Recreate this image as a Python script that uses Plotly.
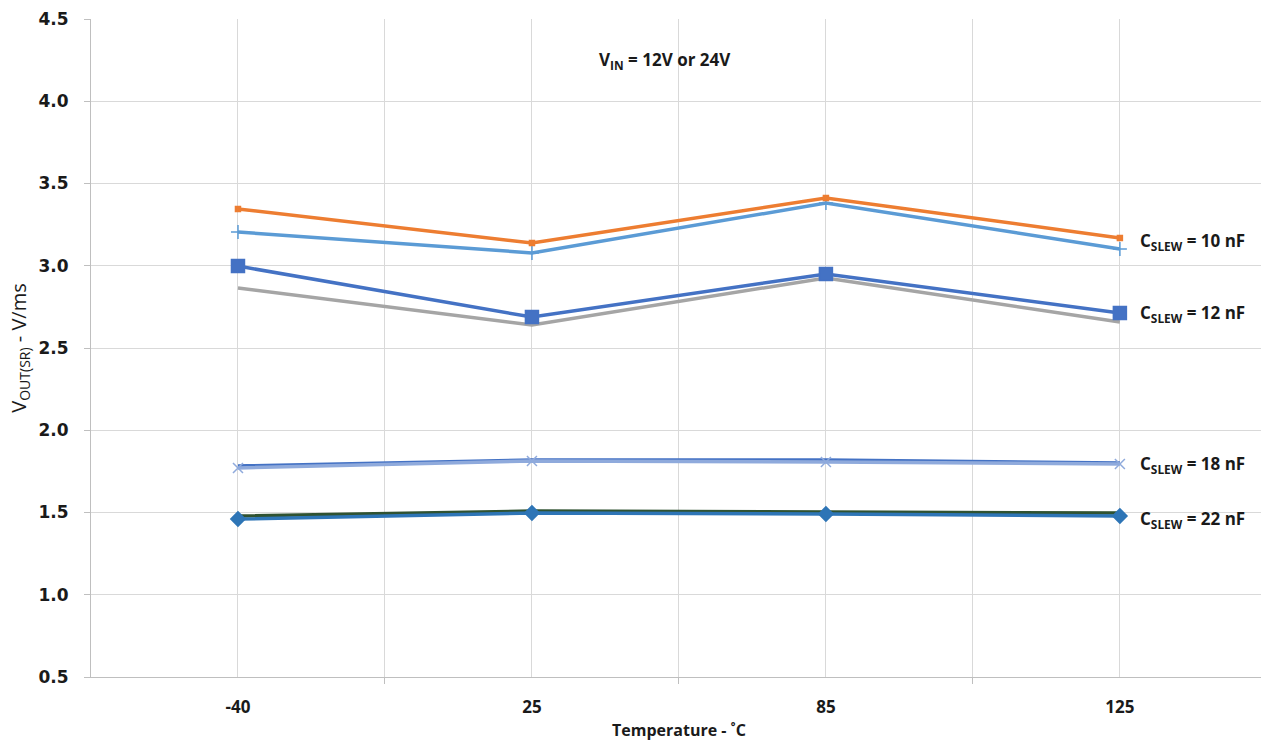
import plotly.graph_objects as go

temps = ["-40", "25", "85", "125"]
xpos = [0, 1, 2, 3]

c10_a = [3.345, 3.138, 3.412, 3.169]   # orange
c10_b = [3.205, 3.078, 3.381, 3.102]   # light blue +
c12_a = [2.998, 2.688, 2.950, 2.713]   # blue squares
c12_b = [2.865, 2.640, 2.926, 2.658]   # gray
c18_a = [1.783, 1.819, 1.819, 1.801]   # blue
c18_b = [1.771, 1.813, 1.807, 1.795]   # light purple-blue x
c22_a = [1.479, 1.509, 1.503, 1.497]   # dark green
c22_b = [1.460, 1.497, 1.491, 1.479]   # blue diamonds

labels = ["C<sub>SLEW</sub> = 10 nF", "C<sub>SLEW</sub> = 12 nF",
          "C<sub>SLEW</sub> = 18 nF", "C<sub>SLEW</sub> = 22 nF"]
label_y = [3.15, 2.707, 1.789, 1.455]

fig = go.Figure()

def add(y, color, symbol=None, size=6, width=3.5):
    mode = "lines+markers" if symbol else "lines"
    fig.add_trace(go.Scatter(
        x=xpos, y=y, mode=mode,
        line=dict(color=color, width=width),
        marker=dict(symbol=symbol or "circle", size=size, color=color,
                    line=dict(color=color, width=1.5)),
        showlegend=False, hoverinfo="skip"))

add(c12_b, "#A5A5A5")
add(c12_a, "#4472C4", "square", 13)
add(c10_b, "#5B9BD5", "cross-thin", 10)
add(c10_a, "#ED7D31", "square", 5)
add(c18_a, "#4472C4")
add(c18_b, "#8FAADC", "x-thin", 10)
add(c22_a, "#2F5231")
add(c22_b, "#2E75B6", "diamond", 11)

for t, yv in zip(labels, label_y):
    fig.add_annotation(x=3.06, y=yv, xref="x", yref="y", text=t,
                       showarrow=False, xanchor="left", yanchor="middle",
                       font=dict(family="Open Sans", size=17, color="#1a1a1a", weight="bold"))

fig.add_annotation(x=1.452, y=4.25, xref="x", yref="y",
                   text="V<sub>IN</sub> = 12V or 24V", showarrow=False,
                   font=dict(family="Open Sans", size=17, color="#1a1a1a", weight="bold"))

# x-axis title
fig.add_annotation(x=1.5, y=-0.0805, xref="x", yref="paper",
                   text="Temperature - ˚C", showarrow=False, yanchor="middle",
                   font=dict(family="Open Sans", size=16, color="#1a1a1a", weight="bold"))

grid_vals = [0, 0.5, 1, 1.5, 2, 2.5, 3]
grid_text = ["-40", "", "25", "", "85", "", "125"]

fig.update_layout(
    width=1261, height=741,
    margin=dict(l=91, r=0, t=19, b=64),
    paper_bgcolor="white", plot_bgcolor="white",
    xaxis=dict(range=[-0.5, 3.48], tickvals=grid_vals, ticktext=grid_text,
               showgrid=True, gridcolor="#D9D9D9", gridwidth=1,
               showline=True, linecolor="#BFBFBF", linewidth=1,
               ticks="", zeroline=False, ticklabelstandoff=15, automargin=False,
               tickfont=dict(family="Open Sans", size=17, color="#1a1a1a", weight="bold"),
               minor=dict(tickvals=[0.5, 1.5, 2.5], ticks="outside", ticklen=6,
                          tickcolor="#BFBFBF", showgrid=False)),
    yaxis=dict(range=[0.5, 4.5], dtick=0.5, tickformat=".1f",
               showgrid=True, gridcolor="#D9D9D9", gridwidth=1,
               showline=True, linecolor="#BFBFBF", linewidth=1,
               ticks="outside", ticklen=6, tickcolor="#BFBFBF", zeroline=False,
               ticklabelstandoff=12, automargin=False,
               tickfont=dict(family="DejaVu Sans", size=17, color="#1a1a1a", weight="bold"),
               title=dict(text="V<sub>OUT(SR)</sub> - V/ms", standoff=6,
                          font=dict(family="Open Sans", size=20, color="#1a1a1a"))),
)

fig.write_html("out.html", config={"displayModeBar": False},
               post_script="document.body.style.margin='0';")
